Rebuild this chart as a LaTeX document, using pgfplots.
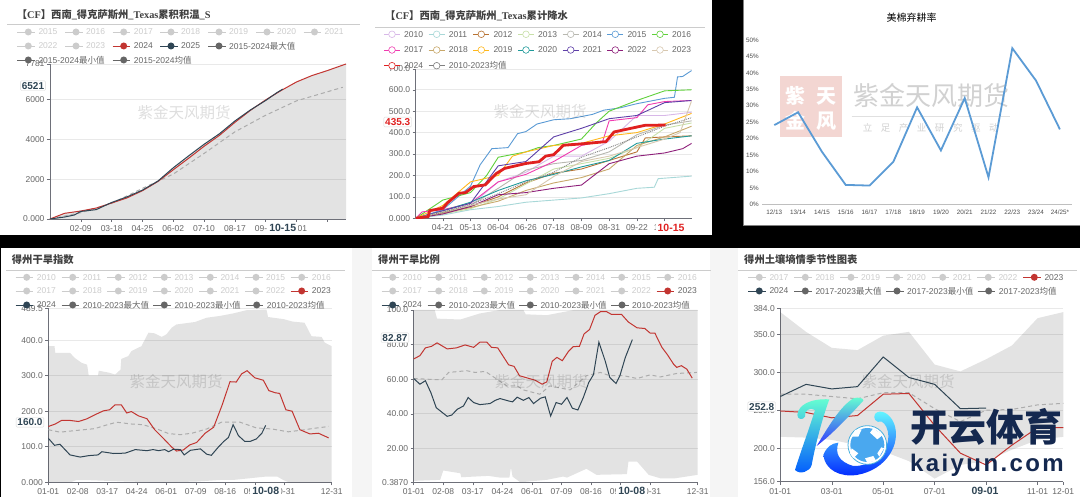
\documentclass[border=0pt]{standalone}
\usepackage{fontspec}
\usepackage{pgfplots}
\pgfplotsset{compat=1.18}
\setmainfont{Liberation Sans}
\newfontfamily\cjk{Noto Sans CJK SC}
\newfontfamily\lser{Liberation Serif}
\newcommand\cjkb{\cjk\bfseries}
\newcommand\serb[1]{{\lser\bfseries #1}}
\definecolor{ink}{HTML}{666666}
\definecolor{axc}{HTML}{6E7079}
\definecolor{gridc}{HTML}{E9E9E9}
\definecolor{off}{HTML}{CCCCCC}
\definecolor{rd}{HTML}{C23531}
\definecolor{nv}{HTML}{2F4554}
\definecolor{stamp}{HTML}{F3D6D2}
\definecolor{ballb}{HTML}{4AA8EF}
\definecolor{c10}{HTML}{D8B8E8}\definecolor{c11}{HTML}{A8D8D8}\definecolor{c12}{HTML}{B87333}
\definecolor{c13}{HTML}{C8E0A8}\definecolor{c14}{HTML}{B8B8B0}\definecolor{c15}{HTML}{5B9BD5}
\definecolor{c16}{HTML}{5FD03A}\definecolor{c17}{HTML}{F03CB0}\definecolor{c18}{HTML}{C8A86A}
\definecolor{c19}{HTML}{FFB81C}\definecolor{c20}{HTML}{1F9A9A}\definecolor{c21}{HTML}{5E3FA8}
\definecolor{c22}{HTML}{8E1F7A}\definecolor{c23}{HTML}{D8C8B0}\definecolor{c24}{HTML}{E02020}
\definecolor{navy}{HTML}{14284F}
\pgfplotsset{
  panel/.style={scale only axis, axis lines*=left, axis line style={-,axc,line width=0.7pt},
    no marks, tick align=outside, tick style={axc,line width=0.5pt}, major tick length=3pt,
    ymajorgrids, grid style={gridc,line width=0.7pt},
    /pgf/number format/assume math mode=true,
    tick label style={font=\fontsize{8.5}{9}\selectfont,text=ink},
    xtick pos=bottom, ytick pos=left, clip=true,
    yticklabel style={xshift=1pt}},
  band/.style={draw=none,fill=black,fill opacity=0.11},
  meanl/.style={draw=gray!65,dash pattern=on 4pt off 3pt,line width=1pt},
  yr/.style={line width=0.9pt,#1,mark=*,mark size=0.9pt,mark options={fill=white,draw=#1!70,line width=0.3pt,solid}},
}
% legend entry: x, y, line colour, circle colour, text colour, text
\newcommand\leg[6]{%
  \draw[#3,line width=0.5pt] (#1,#2)--++(17.5,0);
  \fill[#4] (#1+11,#2) circle (3.5);
  \node[anchor=west,inner sep=0pt,text=#5,font=\fontsize{8.5}{9}\selectfont] at (#1+21,#2) {#6};}
\newcommand\hleg[3]{% hollow legend entry
  \draw[#3,line width=0.6pt] (#1,#2)--++(16,0);
  \filldraw[draw=#3,fill=white,line width=0.6pt] (#1+8,#2) circle (3.3);}
\newcommand\hl[4]{\hleg{#1}{#2}{#3}\node[anchor=west,inner sep=0pt,text=ink,font=\fontsize{8.5}{9}\selectfont] at (#1+20,#2) {#4};}
\newcommand\ptr[4]{\node[fill=white,draw=gray!30,rounded corners=1pt,inner sep=1.3pt,text=#3,font=\fontsize{10}{11}\selectfont\bfseries] at (#1,#2) {#4};}
\newcommand\hov[4]{\node[fill=white,inner xsep=2pt,inner ysep=0.5pt,text=#3,font=\fontsize{10.5}{11}\selectfont\bfseries] at (#1,#2) {#4};}
\newcommand\ttl[3]{\node[anchor=west,inner sep=0pt,text=black!75,font=\fontsize{10.3}{11}\selectfont] at (#1,#2) {\cjkb #3};}
\newcommand\wm[2]{\node[text=black,opacity=0.13,inner sep=0pt,font=\fontsize{15.5}{16}\selectfont] at (#1,#2) {\cjk 紫金天风期货};}
\begin{document}
\begin{tikzpicture}[x=1pt,y=1pt]
\useasboundingbox (0,0) rectangle (1080,497);
\begin{scope}[shift={(0,497)},yscale=-1]
\fill[black] (0,0) rectangle (1080,497);
\fill[white] (0,0) rectangle (712,235);
\fill[white] (743.5,0) rectangle (1080,226);
\fill[gray] (743.5,225.5) rectangle (1080,226.5);
\fill[gray] (743,0) rectangle (744,226.5);
\fill[white] (1,248.5) rectangle (352,497);
\fill[black!4] (352,248.5) rectangle (372,497);
\fill[white] (372,248.5) rectangle (710,497);
\fill[black!4] (710,248.5) rectangle (738,497);
\fill[white] (738,248.5) rectangle (1080,497);
% watermark of the third panel
\fill[stamp] (780,76.5) rectangle (841.7,136.7);
\node[text=white,font=\fontsize{20}{20}\selectfont] at (795,96) {\cjkb 紫};
\node[text=white,font=\fontsize{20}{20}\selectfont] at (826,96) {\cjkb 天};
\node[text=white,font=\fontsize{20}{20}\selectfont] at (795,121) {\cjkb 金};
\node[text=white,font=\fontsize{20}{20}\selectfont] at (826,121) {\cjkb 风};
\node[text=black!18,font=\fontsize{26}{26}\selectfont] at (931.7,95.7) {\cjk 紫金天风期货};
\draw[black!12,line width=0.6pt] (851.7,116) -- (1010,116);
\node[text=black!18,font=\fontsize{9.5}{10}\selectfont] at (930.7,128.3) {\cjk 立\hspace{0.9em}足\hspace{0.9em}产\hspace{0.9em}业\hspace{0.9em}研\hspace{0.9em}究\hspace{0.9em}驱\hspace{0.9em}动};
\end{scope}

%% ---------- panel 1
\begin{axis}[panel,at={(50pt,278pt)},anchor=south west,width=296pt,height=155pt,xmin=0,xmax=365,ymin=0,ymax=7781,
  xtick={38,76,114,152,190,228,266,304,342},xticklabels={02-09,03-18,04-25,06-02,07-10,08-17,09-24,11-01,},
  ytick={0,2000,4000,6000,7781},yticklabels={0.000,2000,4000,6000,7781}]
\addplot[band] coordinates {(0,0)(18,285)(38,420)(57,560)(76,830)(95,1110)(114,1460)(133,1920)(152,2570)(171,3170)(190,3750)(209,4280)(228,4920)(247,5470)(266,5990)(285,6450)(304,6880)(323,7200)(342,7450)(365,7781)(365,0)};
\addplot[meanl] coordinates {(0,0)(38,317)(76,785)(114,1536)(152,2254)(190,3290)(228,4375)(266,5210)(304,5930)(361,6613)};
\addplot[rd,line width=1pt] coordinates {(0,0)(18,285)(38,400)(57,550)(76,800)(95,1060)(114,1420)(133,1880)(152,2470)(171,3050)(190,3650)(209,4200)(228,4850)(247,5450)(266,5980)(285,6450)(304,6880)(323,7200)(342,7450)(365,7781)};
\addplot[nv,line width=1pt] coordinates {(0,0)(18,100)(30,200)(38,380)(57,470)(76,830)(95,1110)(114,1450)(133,1900)(152,2570)(171,3170)(190,3750)(209,4280)(228,4920)(247,5470)(266,5950)(280,6350)(287,6521)};
\end{axis}

%% ---------- panel 2
\begin{axis}[panel,at={(415.7pt,278.7pt)},anchor=south west,width=276pt,height=149.3pt,xmin=0,xmax=214,ymin=0,ymax=697,
  xtick={21,42.5,64,85.5,107,128.5,150,171.5,193},xticklabels={04-21,05-13,06-04,06-26,07-18,08-09,08-31,09-22,10-14},
  ytick={0,100,200,300,400,500,600,697},yticklabels={0.000,100.0,200.0,300.0,400.0,500.0,600.0,700.0}]
\addplot[yr=c10] coordinates {(0,0)(21,30)(42.5,60)(64,170)(85.5,215)(107,290)(128.5,290)(150,360)(171.5,480)(193,480)(214,495)};
\addplot[yr=c11] coordinates {(0,0)(21,15)(42.5,40)(64,55)(85.5,75)(107,85)(128.5,95)(150,115)(171.5,140)(185,145)(188,185)(214,197)};
\addplot[yr=c12] coordinates {(0,0)(21,25)(42.5,55)(64,100)(85.5,165)(107,210)(128.5,230)(150,270)(171.5,310)(178,375)(193,380)(214,385)};
\addplot[yr=c13] coordinates {(0,0)(21,20)(42.5,45)(64,90)(85.5,160)(107,230)(128.5,255)(150,280)(171.5,330)(193,420)(214,445)};
\addplot[yr=c14] coordinates {(0,0)(21,25)(42.5,60)(64,140)(85.5,225)(107,255)(128.5,270)(150,310)(171.5,390)(193,435)(214,455)};
\addplot[yr=c15] coordinates {(0,0)(21,40)(42.5,150)(50,250)(59,325)(71.6,330)(79,395)(85.5,405)(94,440)(107,460)(120,465)(128.5,475)(137,485)(146,505)(158,515)(171.5,535)(193,560)(200.6,565)(203,660)(207,662)(214,690)};
\addplot[yr=c16] coordinates {(0,0)(21,85)(42.5,120)(55,200)(64,285)(85.5,310)(95,330)(107,340)(128.5,370)(140,445)(150,500)(171.5,550)(193,595)(214,600)};
\addplot[yr=c17] coordinates {(0,0)(5,30)(21,40)(42.5,70)(64,170)(85.5,205)(107,265)(128.5,340)(145,360)(150,455)(171.5,470)(180,530)(193,545)(214,550)};
\addplot[yr=c18] coordinates {(0,0)(21,25)(42.5,50)(64,80)(85.5,130)(107,165)(128.5,190)(150,230)(171.5,340)(193,380)(214,430)};
\addplot[yr=c19] coordinates {(0,0)(21,60)(42.5,170)(64,200)(75,290)(85.5,310)(107,340)(128.5,350)(150,385)(171.5,400)(193,440)(214,490)};
\addplot[yr=c20] coordinates {(0,0)(21,35)(42.5,75)(64,130)(85.5,175)(107,205)(128.5,240)(150,270)(171.5,350)(193,370)(214,385)};
\addplot[yr=c21] coordinates {(0,0)(21,35)(42.5,70)(64,245)(85.5,265)(107,380)(128.5,420)(150,465)(171.5,480)(193,540)(214,550)};
\addplot[yr=c22] coordinates {(0,0)(21,20)(42.5,55)(64,110)(85.5,120)(107,140)(128.5,155)(150,255)(171.5,290)(193,305)(207,325)(214,350)};
\addplot[yr=c23] coordinates {(0,0)(21,30)(42.5,60)(64,90)(85.5,110)(107,195)(128.5,265)(150,290)(171.5,330)(193,370)(205,400)(214,550)};
\addplot[draw=gray,densely dotted,line width=0.9pt] coordinates {(0,0)(21,28)(42.5,65)(64,115)(85.5,170)(107,215)(128.5,285)(150,330)(171.5,380)(193,430)(214,470)};
\addplot[c24,line width=2.8pt] coordinates {(0,0)(9.6,8)(10.9,36)(21,47)(24.8,73)(33.6,117)(38.7,120)(45,148)(53.9,156)(62.7,210)(69,233)(85.5,256)(95.6,264)(100.7,290)(107,297)(114.6,341)(129.8,348)(147.5,358)(153.8,403)(171.5,426)(177.8,434)(193.7,435.3)};
\end{axis}

%% ---------- panel 3
\begin{axis}[scale only axis,at={(762.4pt,292.7pt)},anchor=south west,width=309.4pt,height=164.3pt,xmin=-0.5,xmax=12.5,ymin=0,ymax=50,
  axis y line=none,axis x line=bottom,axis line style={-,black!25,line width=0.6pt},no marks,clip=false,
  tick style={draw=none},xtick={0,...,12},
  xticklabels={12/13,13/14,14/15,15/16,16/17,17/18,18/19,19/20,20/21,21/22,22/23,23/24,24/25*},
  tick label style={font=\fontsize{6.3}{7}\selectfont,text=black!70}]
\addplot[c15,line width=1.8pt] coordinates {(0,24.1)(1,28)(2,16)(3,5.9)(4,5.7)(5,12.9)(6,29.5)(7,16.4)(8,32.3)(9,8.2)(10,47.5)(11,37.6)(12,22.8)};
\end{axis}
\begin{scope}[shift={(0,497)},yscale=-1]
\foreach \v/\yy in {0/204.3,5/187.9,10/171.5,15/155.1,20/138.6,25/122.2,30/105.8,35/89.4,40/73,45/56.6,50/40.2}{
  \node[anchor=east,inner sep=0pt,text=black!70,font=\fontsize{6.3}{7}\selectfont] at (759,\yy) {\v\%};}
\node[text=black,font=\fontsize{10}{11}\selectfont] at (911.7,17.3) {\cjk 美棉弃耕率};
\end{scope}

%% ---------- panel 4
\begin{axis}[panel,at={(48.3pt,14.7pt)},anchor=south west,width=283.4pt,height=174pt,xmin=0,xmax=365,ymin=0,ymax=489.5,
  xtick={0,38,76,114,152,190,228,266,304,365},xticklabels={01-01,02-08,03-17,04-24,06-01,07-09,08-16,09-23,10-31,12-31},
  ytick={0,100,200,300,400,489.5},yticklabels={0.000,100.0,200.0,300.0,400.0,489.5}]
\addplot[band] coordinates {(0,383)(8,383)(9,364)(28,364)(34,350)(43,336)(50,331)(52,301)(64,301)(65,314)(79,308)(86,303)(93,317)(94,347)(103,355)(107,369)(120,383)(129,421)(137,419)(146,409)(152,416)(159,435)(165,444)(189,451)(204,463)(221,468)(238,475)(255,484)(281,486)(283,465)(303,459)(315,452)(330,449)(339,411)(352,409)(356,393)(365,383)
 (365,0)(310,0)(303,6)(295,16)(280,16)(240,7)(225,7)(190,2)(150,0)(100,2)(52,6)(36,6)(30,1)(0,0)};
\addplot[meanl] coordinates {(0,148)(15,141)(37,146)(60,151)(73,160)(88,169)(107,164)(122,162)(140,150)(155,137)(170,134)(185,138)(204,150)(223,169)(247,169)(268,153)(288,150)(309,142)(324,146)(343,152)(361,157)};
\addplot[rd,line width=1pt] coordinates {(0,157)(9,164)(17,174)(28,174)(39,171)(49,178)(60,190)(71,201)(79,204)(86,218)(94,218)(101,195)(107,199)(116,187)(127,179)(137,148)(148,124)(159,99)(165,88)(174,91)(182,105)(191,112)(202,138)(213,155)(224,218)(234,283)(242,282)(249,305)(256,314)(266,294)(277,287)(284,258)(292,252)(298,250)(306,204)(314,200)(324,148)(337,136)(348,138)(361,125)};
\addplot[nv,line width=1pt] coordinates {(0,124)(8,104)(15,107)(28,77)(41,71)(52,75)(64,77)(69,86)(84,81)(99,82)(112,92)(127,89)(135,92)(142,89)(150,92)(155,86)(161,93)(170,92)(175,77)(183,90)(196,94)(204,79)(210,76)(219,99)(226,115)(232,126)(238,162)(245,131)(253,115)(260,115)(268,122)(275,138)(280,160)};
\end{axis}

%% ---------- panel 5
\begin{axis}[panel,at={(413.7pt,14.7pt)},anchor=south west,width=284pt,height=172.3pt,xmin=0,xmax=365,ymin=0.387,ymax=100,
  xtick={0,38,76,114,152,190,228,266,304,365},xticklabels={01-01,02-08,03-17,04-24,06-01,07-09,08-16,09-23,10-31,12-31},
  ytick={0.387,20,40,60,80,100},yticklabels={0.3870,20.00,40.00,60.00,80.00,100.0}]
\addplot[band] coordinates {(0,100)(27,100)(30,95)(60,94.5)(85,98)(111,100)(141,100)(144,97.5)(171,97)(206,100)(365,100)
 (365,4.7)(336,2.7)(317,2.7)(302,4.7)(287,12.4)(276,12.4)(274,5.1)(235,4.7)(222,8.2)(197,3.1)(192,3.7)(171,1.8)(137,0.4)(127,3.7)(125,9)(123,3.1)(111,3.1)(96,4.1)(61,3.3)(60,5.6)(38,7.2)(34,1.8)(0,1.2)};
\addplot[meanl] coordinates {(0,60.4)(17,60)(36,59.6)(45,63.9)(68,64.9)(79,63.9)(92,64.5)(107,60)(120,56.1)(133,56.1)(141,53.8)(162,51.3)(175,56.1)(201,53.8)(222,62)(240,63.9)(252,62)(270,62)(287,60.4)(304,62.5)(317,61.3)(338,63.3)(364,63.9)};
\addplot[rd,line width=1pt] coordinates {(0,71.7)(8,73.6)(15,78.1)(23,79)(30,81)(43,77.5)(55,78.1)(66,79.8)(77,78.4)(85,81.4)(94,81.4)(100,78.4)(108,78.1)(122,68.3)(129,67.4)(136,62)(156,59.4)(165,57.1)(171,58.4)(178,70.3)(184,72.6)(191,70.7)(199,76.1)(205,78.8)(213,79)(219,86.2)(226,88.7)(233,96.9)(240,99)(248,99)(254,97.5)(267,97.5)(276,93)(287,89.7)(297,89.3)(304,86.6)(310,86.6)(319,78.4)(326,74.2)(334,68.7)(338,66.8)(344,67.8)(351,65.8)(358,60.6)};
\addplot[nv,line width=1pt] coordinates {(0,60.4)(8,57.1)(15,59.1)(22,52.3)(29,43.5)(36,41)(43,38.5)(49,39.3)(56,42.6)(64,44.5)(70,49.4)(77,46.5)(85,45.3)(98,45.9)(105,47.8)(111,48.8)(122,47.4)(127,46.9)(133,49.6)(141,47.8)(148,49.4)(154,45.9)(163,49)(169,49.8)(176,38.7)(183,46.5)(190,45.5)(197,49.4)(204,43.2)(211,42.2)(218,49.4)(225,58.1)(231,62.6)(238,81.4)(246,70.7)(252,61)(260,57.5)(265,62)(272,72.6)(281,82.87)};
\end{axis}

%% ---------- panel 6
\begin{axis}[panel,at={(780.3pt,15.3pt)},anchor=south west,width=283pt,height=173.4pt,xmin=0,xmax=11,ymin=156,ymax=384,
  xtick={0,2,4,6,8,10,11},xticklabels={01-01,03-01,05-01,07-01,09-01,11-01,12-01},
  ytick={156,200,250,300,350,384},yticklabels={156.0,200.0,250.0,300.0,350.0,384.0}]
\addplot[band] coordinates {(0,379)(1,353)(2,332)(3,329)(4,348)(5,353)(6,310)(7,301)(8,317)(9,335)(10,371)(11,379)(11,215)(10,211)(9,198)(8,183)(7,178)(6,160)(5,183)(4,196)(3,204)(2,211)(1,214)(0,215)};
\addplot[meanl] coordinates {(0,271)(1,271)(2,268)(3,265)(4,273)(5,273)(6,252)(7,235)(8,250)(9,251)(10,257)(11,259)};
\addplot[rd,line width=1pt] coordinates {(0,249)(1,247)(2,240)(3,243)(4,271)(5,272)(6,230)(7,193.5)(8,178)(9,204)(10,227)(11,227)};
\addplot[nv,line width=1pt] coordinates {(0,268)(1,284)(2,278)(3,281)(4,320)(5,293)(6,284)(7,252)(8,252.8)};
\end{axis}

%% ---------- overlays in image coordinates
\begin{scope}[shift={(0,497)},yscale=-1]
\wm{184}{113}\wm{540}{112}\wm{176}{382}\wm{541}{382}\wm{908}{382}
% titles and rules
\ttl{16.7}{14.3}{【\serb{CF}】西南\serb{\_}得克萨斯州\serb{\_Texas}累积积温\serb{\_S}}
\draw[black!20,line width=0.7pt] (7,24.7)--(360,24.7);
\ttl{385}{16}{【\serb{CF}】西南\serb{\_}得克萨斯州\serb{\_Texas}累计降水}
\draw[black!20,line width=0.7pt] (375,27)--(705,27);
\ttl{11.7}{260}{得州干旱指数}
\draw[black!20,line width=0.7pt] (6,270.5)--(345,270.5);
\ttl{378}{260}{得州干旱比例}
\draw[black!20,line width=0.7pt] (372,270.5)--(711,270.5);
\ttl{744}{260}{得州土壤墒情季节性图表}
\draw[black!20,line width=0.7pt] (738,270.5)--(1077,270.5);
% legend 1
\foreach \x/\t in {17.3/2015,65/2016,112.7/2017,160/2018,208/2019,256/2020,303.5/2021}{\leg{\x}{32}{off}{off}{off}{\t}}
\leg{17.3}{46}{off}{off}{off}{2022}\leg{65}{46}{off}{off}{off}{2023}
\leg{112.7}{46}{rd}{rd}{ink}{2024}\leg{160}{46}{nv}{nv}{ink}{2025}
\leg{208}{46}{ink}{ink}{ink}{2015-2024{\cjk 最大值}}
\leg{17.3}{60}{ink}{ink}{ink}{2015-2024{\cjk 最小值}}
\leg{112.7}{60}{ink}{ink}{ink}{2015-2024{\cjk 均值}}
% legend 2
\hl{384}{34.3}{c10}{2010}\hl{428.7}{34.3}{c11}{2011}\hl{473.3}{34.3}{c12}{2012}\hl{518}{34.3}{c13}{2013}\hl{562.7}{34.3}{c14}{2014}\hl{607.3}{34.3}{c15}{2015}\hl{652}{34.3}{c16}{2016}
\hl{384}{50}{c17}{2017}\hl{428.7}{50}{c18}{2018}\hl{473.3}{50}{c19}{2019}\hl{518}{50}{c20}{2020}\hl{562.7}{50}{c21}{2021}\hl{607.3}{50}{c22}{2022}\hl{652}{50}{c23}{2023}
\hl{384}{65.7}{c24}{2024}\hl{428.7}{65.7}{gray}{2010-2023{\cjk 均值}}
% legend 4
\foreach \x/\t in {15.7/2010,61.7/2011,107.3/2012,153.3/2013,199.3/2014,245/2015,290.7/2016}{\leg{\x}{277.3}{off}{off}{off}{\t}}
\foreach \x/\t in {15.7/2017,61.7/2018,107.3/2019,153.3/2020,199.3/2021,245/2022}{\leg{\x}{291}{off}{off}{off}{\t}}
\leg{290.7}{291}{rd}{rd}{ink}{2023}
\leg{15.7}{305}{nv}{nv}{ink}{2024}\leg{61.7}{305}{ink}{ink}{ink}{2010-2023{\cjk 最大值}}
\leg{153.3}{305}{ink}{ink}{ink}{2010-2023{\cjk 最小值}}\leg{245.7}{305}{ink}{ink}{ink}{2010-2023{\cjk 均值}}
% legend 5
\foreach \x/\t in {381.7/2010,427.7/2011,473.3/2012,519.3/2013,565/2014,610.7/2015,656.7/2016}{\leg{\x}{277.3}{off}{off}{off}{\t}}
\foreach \x/\t in {381.7/2017,427.7/2018,473.3/2019,519.3/2020,565/2021,610.7/2022}{\leg{\x}{291}{off}{off}{off}{\t}}
\leg{656.7}{291}{rd}{rd}{ink}{2023}
\leg{381.7}{305}{nv}{nv}{ink}{2024}\leg{427.7}{305}{ink}{ink}{ink}{2010-2023{\cjk 最大值}}
\leg{519.3}{305}{ink}{ink}{ink}{2010-2023{\cjk 最小值}}\leg{611}{305}{ink}{ink}{ink}{2010-2023{\cjk 均值}}
% legend 6
\foreach \x/\t in {748.3/2017,794.3/2018,840/2019,885.7/2020,931.7/2021,977.3/2022}{\leg{\x}{277.3}{off}{off}{off}{\t}}
\leg{1023.3}{277.3}{rd}{rd}{ink}{2023}
\leg{748.3}{291}{nv}{nv}{ink}{2024}\leg{794.3}{291}{ink}{ink}{ink}{2017-2023{\cjk 最大值}}
\leg{886}{291}{ink}{ink}{ink}{2017-2023{\cjk 最小值}}\leg{977.7}{291}{ink}{ink}{ink}{2017-2023{\cjk 均值}}
% axis-pointer labels
\ptr{33}{85.7}{nv}{6521}\hov{282.7}{228.3}{nv}{10-15}
\ptr{397.7}{122}{c24}{435.3}\hov{671}{227.7}{c24}{10-15}
\ptr{30}{422.3}{nv}{160.0}\hov{265.7}{491}{nv}{10-08}
\ptr{395}{337.7}{nv}{82.87}\hov{631.7}{491}{nv}{10-08}
\ptr{761.7}{406.7}{nv}{252.8}\hov{985}{490.7}{nv}{09-01}
% brand logo
\begin{scope}[shift={(790,390)},scale=1/3]
\shade[top color=cyan!70!green!60,bottom color=blue!65!cyan] (22,75) .. controls (25,45) and (60,25) .. (118,28) .. controls (95,90) and (75,170) .. (65,225) .. controls (60,245) and (30,255) .. (15,240) .. controls (30,190) and (60,110) .. (75,60) .. controls (60,50) and (42,62) .. (45,80) .. controls (38,92) and (22,88) .. (22,75) -- cycle;
\shade[top color=cyan!70!green!60,bottom color=blue!80] (80,168) .. controls (115,110) and (150,50) .. (190,25) .. controls (205,20) and (222,25) .. (220,32) .. controls (185,70) and (130,130) .. (80,168) -- cycle;
\shade[top color=cyan!60,bottom color=blue!85!cyan] (100,195) .. controls (110,170) and (125,160) .. (145,158) .. controls (135,190) and (145,215) .. (190,228) .. controls (240,230) and (295,190) .. (295,140) .. controls (295,115) and (285,100) .. (275,95) .. controls (258,100) and (248,85) .. (255,72) .. controls (270,55) and (300,70) .. (312,100) .. controls (335,160) and (290,240) .. (200,255) .. controls (150,262) and (105,240) .. (100,195) -- cycle;
\filldraw[draw=c15!80!cyan,fill=white,line width=0.8pt] (232,165) circle (58);
\fill[ballb] (232,165) circle (51);
\fill[white] (195,120) -- (215,118) -- (205,140) -- (186,140) -- cycle;
\fill[white] (250,115) -- (278,135) -- (262,148) -- (240,128) -- cycle;
\fill[white] (185,175) -- (205,190) -- (190,205) -- (180,190) -- cycle;
\fill[white] (225,205) -- (250,198) -- (258,212) -- (232,218) -- cycle;
\fill[white] (274,172) -- (282,175) -- (268,200) -- (262,190) -- cycle;
\end{scope}
\node[anchor=west,inner sep=0pt,text=navy,font=\fontsize{38}{38}\selectfont] at (910,426.5) {\cjkb 开云体育};
\node[anchor=west,inner sep=0pt,text=navy,font=\fontsize{24}{24}\selectfont\bfseries] at (910,465.5) {\addfontfeatures{LetterSpace=10}kaiyun.com};
\end{scope}
\end{tikzpicture}
\end{document}
